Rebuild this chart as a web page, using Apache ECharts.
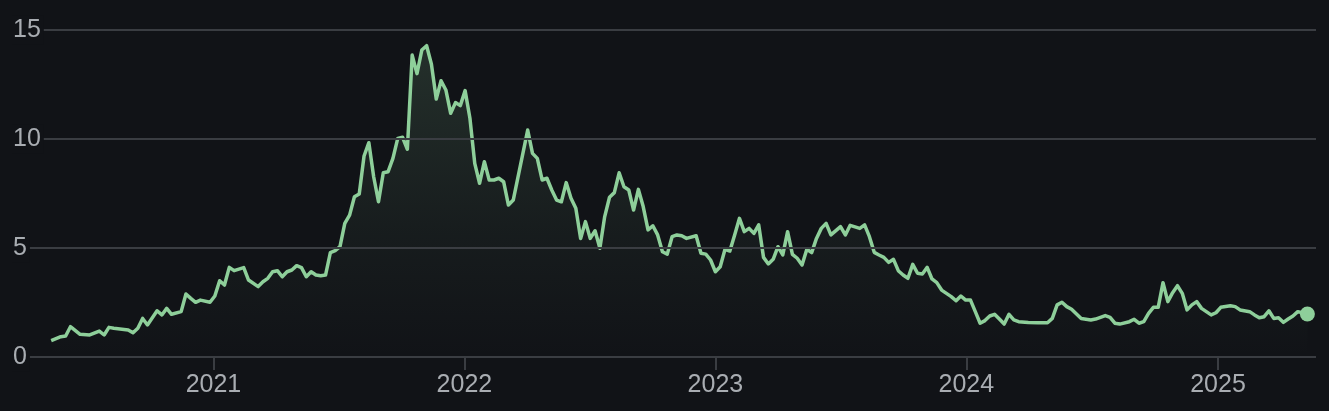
<!DOCTYPE html>
<html>
<head>
<meta charset="utf-8">
<script src="https://cdn.jsdelivr.net/npm/echarts@6/dist/echarts.min.js"></script>
<style>
html,body{margin:0;padding:0;background:#111317;}
#chart{width:1329px;height:411px;}
</style>
</head>
<body>
<div id="chart"></div>
<script>
const dates = [
'2020-05-10','2020-05-24','2020-05-31','2020-06-07','2020-06-21','2020-07-05','2020-07-19','2020-07-26','2020-08-02','2020-08-09',
'2020-08-30','2020-09-06','2020-09-13','2020-09-20','2020-09-27','2020-10-11','2020-10-18','2020-10-25','2020-11-01','2020-11-15',
'2020-11-22','2020-11-29','2020-12-06','2020-12-13','2020-12-27','2021-01-03','2021-01-10','2021-01-17','2021-01-24','2021-01-31',
'2021-02-14','2021-02-21','2021-03-07','2021-03-14','2021-03-21','2021-03-28','2021-04-04','2021-04-11','2021-04-18','2021-04-25',
'2021-05-02','2021-05-09','2021-05-16','2021-05-23','2021-05-30','2021-06-06','2021-06-13','2021-06-20','2021-06-27','2021-07-04',
'2021-07-11','2021-07-18','2021-07-25','2021-08-01','2021-08-08','2021-08-15','2021-08-22','2021-08-29','2021-09-05','2021-09-12',
'2021-09-19','2021-09-26','2021-10-03','2021-10-10','2021-10-17','2021-10-24','2021-10-31','2021-11-07','2021-11-14','2021-11-21',
'2021-11-28','2021-12-05','2021-12-12','2021-12-19','2021-12-26','2022-01-02','2022-01-09','2022-01-16','2022-01-23','2022-01-30',
'2022-02-06','2022-02-13','2022-02-20','2022-02-27','2022-03-06','2022-03-13','2022-04-03','2022-04-10','2022-04-17','2022-04-24',
'2022-05-01','2022-05-08','2022-05-15','2022-05-22','2022-05-29','2022-06-05','2022-06-12','2022-06-19','2022-06-26','2022-07-03',
'2022-07-10','2022-07-17','2022-07-24','2022-07-31','2022-08-07','2022-08-14','2022-08-21','2022-08-28','2022-09-04','2022-09-11',
'2022-09-18','2022-09-25','2022-10-02','2022-10-09','2022-10-16','2022-10-23','2022-10-30','2022-11-06','2022-11-13','2022-11-20',
'2022-12-04','2022-12-11','2022-12-18','2022-12-25','2023-01-01','2023-01-08','2023-01-15','2023-01-22','2023-01-29','2023-02-05',
'2023-02-12','2023-02-19','2023-02-26','2023-03-05','2023-03-12','2023-03-19','2023-03-26','2023-04-02','2023-04-09','2023-04-16',
'2023-04-23','2023-04-30','2023-05-07','2023-05-14','2023-05-21','2023-05-28','2023-06-04','2023-06-11','2023-06-18','2023-07-02',
'2023-07-09','2023-07-16','2023-07-30','2023-08-06','2023-08-13','2023-08-20','2023-08-27','2023-09-03','2023-09-10','2023-09-17',
'2023-09-24','2023-10-01','2023-10-08','2023-10-15','2023-10-22','2023-10-29','2023-11-05','2023-11-12','2023-11-19','2023-11-26',
'2023-12-03','2023-12-10','2023-12-17','2023-12-24','2023-12-31','2024-01-07','2024-01-14','2024-01-21','2024-01-28','2024-02-04',
'2024-02-11','2024-02-18','2024-02-25','2024-03-03','2024-03-10','2024-03-17','2024-03-31','2024-04-14','2024-04-28','2024-05-05',
'2024-05-12','2024-05-19','2024-05-26','2024-06-02','2024-06-16','2024-06-30','2024-07-07','2024-07-21','2024-07-28','2024-08-04',
'2024-08-11','2024-08-25','2024-09-01','2024-09-08','2024-09-15','2024-09-22','2024-09-29','2024-10-06','2024-10-13','2024-10-20',
'2024-10-27','2024-11-03','2024-11-10','2024-11-17','2024-11-24','2024-12-01','2024-12-08','2024-12-15','2024-12-22','2024-12-29',
'2025-01-05','2025-01-19','2025-01-26','2025-02-02','2025-02-16','2025-02-23','2025-03-02','2025-03-09','2025-03-16','2025-03-23',
'2025-03-30','2025-04-06','2025-04-13','2025-04-20','2025-04-27','2025-05-11'
];
const values = [
0.75,0.93,0.96,1.39,1.04,1.01,1.19,1.01,1.36,1.32,
1.24,1.11,1.32,1.77,1.47,2.12,1.93,2.23,1.96,2.08,
2.89,2.69,2.51,2.61,2.51,2.80,3.50,3.30,4.11,3.96,
4.10,3.53,3.23,3.45,3.61,3.91,3.96,3.68,3.91,3.99,
4.19,4.10,3.68,3.91,3.76,3.73,3.76,4.79,4.88,5.06,
6.13,6.51,7.35,7.48,9.22,9.83,8.27,7.12,8.45,8.50,
9.11,10.03,10.08,9.53,13.85,13.00,14.08,14.28,13.43,11.83,
12.67,12.25,11.18,11.67,11.53,12.22,10.95,8.88,7.97,8.96,
8.12,8.12,8.20,8.04,6.97,7.20,10.41,9.34,9.11,8.12,
8.20,7.66,7.20,7.12,8.00,7.28,6.82,5.44,6.21,5.44,
5.79,4.99,6.44,7.33,7.54,8.45,7.81,7.66,6.74,7.69,
6.90,5.83,6.02,5.60,4.83,4.72,5.52,5.60,5.56,5.44,
5.56,4.76,4.72,4.45,3.91,4.14,4.94,4.86,5.60,6.36,
5.75,5.90,5.67,6.06,4.57,4.27,4.48,5.06,4.68,5.75,
4.71,4.53,4.22,4.94,4.79,5.44,5.90,6.13,5.60,5.98,
5.60,6.04,5.90,6.06,5.52,4.80,4.68,4.57,4.34,4.48,
3.96,3.76,3.61,4.25,3.84,3.81,4.11,3.58,3.41,3.07,
2.92,2.77,2.58,2.80,2.61,2.61,2.08,1.55,1.67,1.88,
1.96,1.74,1.51,1.96,1.70,1.62,1.58,1.57,1.57,1.77,
2.39,2.51,2.31,2.19,1.77,1.70,1.74,1.90,1.82,1.55,
1.51,1.62,1.73,1.55,1.62,2.00,2.28,2.28,3.41,2.54,
2.95,3.27,2.92,2.16,2.39,2.54,2.23,2.08,1.93,2.03,
2.28,2.35,2.31,2.16,2.08,1.93,1.80,1.85,2.12,1.77,
1.80,1.59,1.74,1.88,2.08,1.97
];
const yTicks = [0, 5, 10, 15];
const xRange = ['2020-03-14', '2025-05-23T12:00:00'];

const lineColor = '#8ecf9a';
const bg = '#111317';
const gridColor = '#3a3d42';
const textColor = '#a9adb2';
const font = "'Liberation Sans', Arial, Helvetica, sans-serif";

const seriesData = dates.map((d, i) => [d, values[i]]);
const last = seriesData[seriesData.length - 1];

const chart = echarts.init(document.getElementById('chart'), null, {renderer: 'canvas'});
chart.setOption({
  backgroundColor: bg,
  animation: false,
  grid: {left: 12, right: 13, top: 30, bottom: 54, containLabel: false},
  xAxis: {
    type: 'time',
    min: xRange[0],
    max: xRange[1],
    minInterval: 360 * 86400000,
    axisLine: {show: false},
    axisTick: {show: true, length: 13, lineStyle: {color: gridColor, width: 2}},
    splitLine: {show: false},
    axisLabel: {
      color: textColor, fontSize: 25, fontFamily: font, margin: 16,
      formatter: '{yyyy}', hideOverlap: true
    }
  },
  yAxis: {
    type: 'value',
    min: yTicks[0],
    max: yTicks[yTicks.length - 1],
    interval: yTicks[1] - yTicks[0],
    axisLine: {show: false},
    axisTick: {show: false},
    splitLine: {lineStyle: {color: gridColor, width: 2}},
    axisLabel: {
      inside: true, margin: 0, align: 'left', verticalAlign: 'middle',
      color: textColor, fontSize: 25, fontFamily: font,
      backgroundColor: bg, padding: [3, 3, 1, 1]
    },
    z: 5
  },
  series: [
    {
      type: 'line',
      data: seriesData,
      showSymbol: false,
      symbol: 'none',
      lineStyle: {color: lineColor, width: 3.5, join: 'round'},
      areaStyle: {
        color: new echarts.graphic.LinearGradient(0, 0, 0, 1, [
          {offset: 0, color: 'rgba(142,207,154,0.22)'},
          {offset: 0.6, color: 'rgba(142,207,154,0.07)'},
          {offset: 1, color: 'rgba(142,207,154,0)'}
        ])
      },
      z: 2
    },
    {
      type: 'scatter',
      data: [last],
      symbol: 'circle',
      symbolSize: 15,
      itemStyle: {color: lineColor, opacity: 1},
      z: 3
    }
  ]
});
</script>
</body>
</html>
